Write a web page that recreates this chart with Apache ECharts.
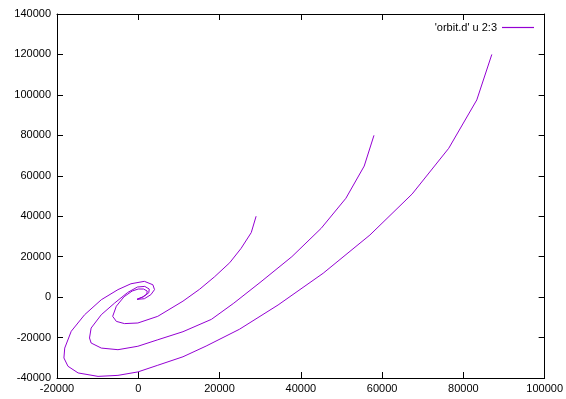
<!DOCTYPE html>
<html>
<head>
<meta charset="utf-8">
<script src="https://cdn.jsdelivr.net/npm/echarts@6/dist/echarts.min.js"></script>
<style>
html,body{margin:0;padding:0;background:#fff;}
#c{width:566px;height:399px;}
</style>
</head>
<body>
<div id="c"></div>
<script>
// Data (x = column 2, y = column 3)
var seriesName = "'orbit.d' u 2:3";
var xTicks = [-20000, 0, 20000, 40000, 60000, 80000, 100000];
var yTicks = [-40000, -20000, 0, 20000, 40000, 60000, 80000, 100000, 120000, 140000];

var orbitA_x = [-300, 1500, 3100, 4000, 3600, 1500, -1800, -5000, -9100, -13200, -16500, -18100, -18300, -17300, -14800, -9900, -5000, -100, 4800, 11000, 16700, 24900, 34400, 45500, 57000, 67400, 76400, 83300, 87000];
var orbitA_y = [-1100, -800, 1200, 3700, 6100, 7800, 6600, 3700, -1300, -8700, -16900, -25200, -30100, -34200, -37500, -39200, -38700, -37000, -33700, -29500, -24200, -15900, -3900, 11800, 30700, 51000, 73600, 97500, 120000];

var orbitB_x = [-300, 1300, 2600, 2700, 1600, -200, -2600, -5800, -9100, -11600, -12000, -11600, -9100, -5000, -100, 4800, 11000, 18000, 23500, 30200, 37800, 45000, 51100, 55600, 58000];
var orbitB_y = [-1100, 200, 2200, 4000, 5300, 5000, 2300, -2900, -8700, -15300, -20200, -22700, -25200, -26000, -24300, -21100, -17100, -11000, -3000, 7600, 20000, 34000, 48900, 64800, 80000];

var orbitC_x = [-300, 1100, 2100, 2200, 1300, 0, -1500, -3500, -5400, -6300, -5400, -3400, -100, 4800, 11000, 15100, 18800, 22500, 25300, 27800, 29000];
var orbitC_y = [-1100, 100, 1500, 3000, 4000, 4000, 3000, 200, -4500, -9500, -12000, -13100, -12800, -9500, -2000, 3900, 10100, 17000, 24100, 31900, 40000];

function pairs(xs, ys) {
  var out = [];
  for (var i = 0; i < xs.length; i++) out.push([xs[i], ys[i]]);
  return out;
}

var color = '#9400D3';
var font = 'Liberation Sans, Arial, sans-serif';
function plain(v) { return String(v); }

function mkX(pos, showLabel) {
  return {
    type: 'value', position: pos,
    min: xTicks[0], max: xTicks[xTicks.length - 1], interval: 20000,
    axisLine: { show: true, onZero: false, lineStyle: { color: '#000', width: 1 } },
    axisTick: { show: true, inside: true, length: 6, lineStyle: { color: '#000' } },
    axisLabel: { show: showLabel, color: '#000', fontSize: 11, fontFamily: font, margin: 5, formatter: plain },
    splitLine: { show: false }
  };
}
function mkY(pos, showLabel) {
  return {
    type: 'value', position: pos,
    min: yTicks[0], max: yTicks[yTicks.length - 1], interval: 20000,
    axisLine: { show: true, onZero: false, lineStyle: { color: '#000', width: 1 } },
    axisTick: { show: true, inside: true, length: 6, lineStyle: { color: '#000' } },
    axisLabel: { show: showLabel, color: '#000', fontSize: 11, fontFamily: font, margin: 6, formatter: plain },
    splitLine: { show: false }
  };
}

function mkSeries(xs, ys) {
  return {
    name: seriesName, type: 'line', xAxisIndex: 0, yAxisIndex: 0,
    data: pairs(xs, ys), symbol: 'none', showSymbol: false,
    lineStyle: { color: color, width: 1 }, itemStyle: { color: color },
    smooth: false
  };
}

var chart = echarts.init(document.getElementById('c'), null, { renderer: 'canvas' });
chart.setOption({
  animation: false,
  backgroundColor: '#fff',
  grid: { left: 57, right: 20, top: 14, bottom: 21, containLabel: false },
  legend: {
    data: [{ name: seriesName, icon: 'rect' }],
    right: 27, top: 17, align: 'right', itemWidth: 32, itemHeight: 1.2, itemGap: 6,
    textStyle: { color: '#000', fontSize: 11, fontFamily: font },
    selectedMode: false
  },
  xAxis: [mkX('bottom', true), mkX('top', false)],
  yAxis: [mkY('left', true), mkY('right', false)],
  series: [mkSeries(orbitC_x, orbitC_y), mkSeries(orbitB_x, orbitB_y), mkSeries(orbitA_x, orbitA_y)]
});
</script>
</body>
</html>
